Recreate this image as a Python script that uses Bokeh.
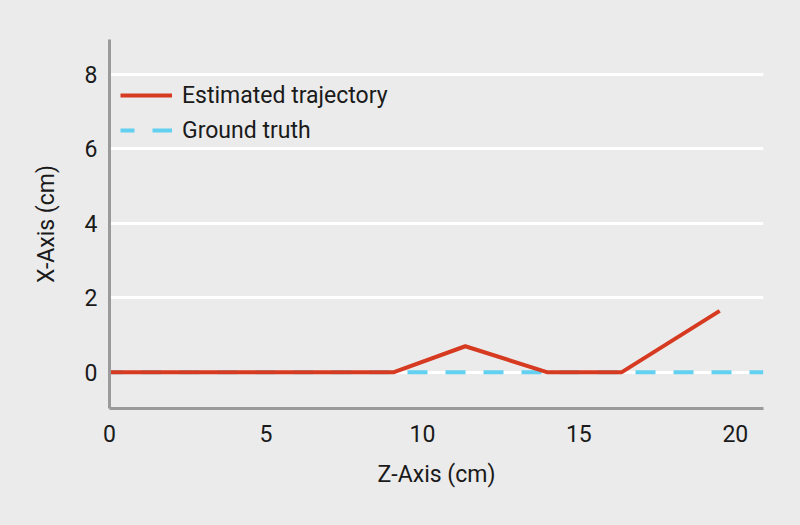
from bokeh.plotting import figure
from bokeh.models import Range1d, FixedTicker, Legend, LegendItem
from bokeh.embed import file_html
from bokeh.resources import INLINE

# data
est_z = [0, 9.07, 11.37, 14.0, 16.36, 19.5]
est_x = [0, 0, 0.7, 0, 0, 1.65]
gt_z = [0, 20.9]
gt_x = [0, 0]
x_ticks = [0, 5, 10, 15, 20]
y_ticks = [0, 2, 4, 6, 8]

BG = "#ebebeb"
FONT = "Roboto"
FS = "23px"

p = figure(width=792, height=517, output_backend="svg", toolbar_location=None,
           x_range=Range1d(0, 20.9), y_range=Range1d(-0.97, 8.93))
p.min_border_left = 109
p.min_border_right = 29
p.min_border_top = 39
p.min_border_bottom = 109
p.background_fill_color = BG
p.border_fill_color = BG
p.outline_line_color = None

p.xgrid.grid_line_color = None
p.ygrid.grid_line_color = "white"
p.ygrid.grid_line_width = 3

for ax in (p.xaxis[0], p.yaxis[0]):
    ax.axis_line_color = "#9a9a9a"
    ax.axis_line_width = 3
    ax.major_tick_line_color = None
    ax.minor_tick_line_color = None
    ax.major_label_text_font = FONT
    ax.major_label_text_font_size = FS
    ax.major_label_text_color = "#1a1a1a"
    ax.axis_label_text_font = FONT
    ax.axis_label_text_font_size = FS
    ax.axis_label_text_font_style = "normal"
    ax.axis_label_text_color = "#1a1a1a"

p.xaxis.ticker = FixedTicker(ticks=x_ticks)
p.yaxis.ticker = FixedTicker(ticks=y_ticks)
p.xaxis.axis_label = "Z-Axis (cm)"
p.yaxis.axis_label = "X-Axis (cm)"
p.xaxis.major_label_standoff = 10
p.yaxis.major_label_standoff = 6
p.xaxis.axis_label_standoff = 16
p.yaxis.axis_label_standoff = 22

gt = p.line(gt_z, gt_x, line_color="#62d0f0", line_width=4, line_dash="20 18",
            line_dash_offset=6)
est = p.line(est_z, est_x, line_color="#d63a20", line_width=4)

legend = Legend(items=[LegendItem(label="Estimated trajectory", renderers=[est]),
                       LegendItem(label="Ground truth", renderers=[gt])],
                location=(11, 263))
legend.border_line_color = None
legend.background_fill_alpha = 0
legend.margin = 0
legend.padding = 0
legend.spacing = 5
legend.glyph_width = 52
legend.glyph_height = 30
legend.label_height = 30
legend.label_standoff = 10
legend.label_text_font = FONT
legend.label_text_font_size = FS
legend.label_text_color = "#1a1a1a"
p.add_layout(legend)

html = file_html(p, INLINE)
html = html.replace("<head>", "<head><style>html,body{background:#ebebeb;}</style>", 1)
open("out.html", "w").write(html)
